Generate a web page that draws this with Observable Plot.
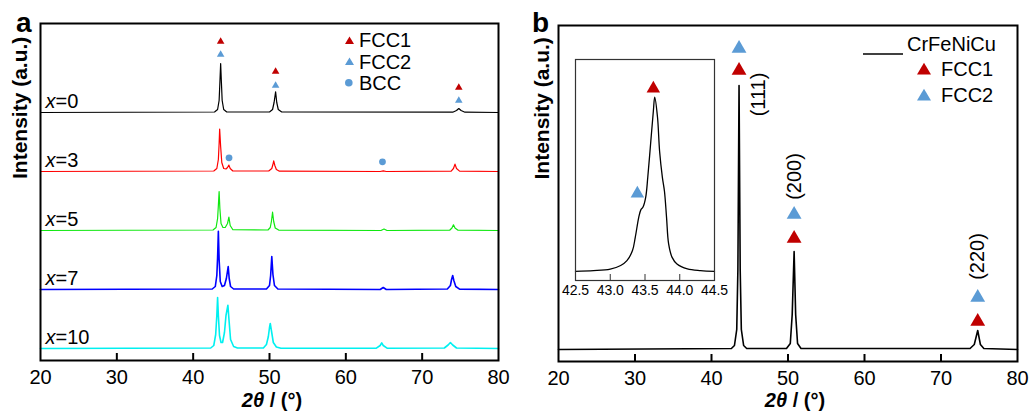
<!DOCTYPE html>
<html><head><meta charset="utf-8">
<script src="https://cdn.jsdelivr.net/npm/d3@7"></script>
<script src="https://cdn.jsdelivr.net/npm/@observablehq/plot@0.6"></script>
<style>
body{margin:0;background:#fff;}
#wrap{position:relative;width:1031px;height:413px;overflow:hidden;font-family:"Liberation Sans",Arial,Helvetica,sans-serif;color:#000;}
#wrap > *{position:absolute;}
.ttl{font-weight:bold;font-size:20px;transform:translate(-50%,-50%);white-space:nowrap;}
.lg{font-size:20px;line-height:1;white-space:nowrap;transform:translateY(-50%);}
.letter{font-weight:bold;font-size:28px;line-height:1;}
</style></head><body><div id="wrap"></div>
<script>
const FONT = '"Liberation Sans", Arial, Helvetica, sans-serif';
const RED = "#c00000", BLUE = "#5b9bd5";

// ---------- Panel a data ----------
const compositions = ["0", "3", "5", "7", "10"];
const seriesColors = ["#000000", "#ff0000", "#10e810", "#0000ff", "#00f0f0"];
const xTicks = [20, 30, 40, 50, 60, 70, 80];
const innerTicks = [30, 40, 50, 60, 70];

const pattern_x0 = [[20,0],[42.8,0.5],[43.2,3],[43.4,12],[43.5,30],[43.6,49],[43.7,30],[43.8,12],[44.0,3],[44.4,0.5],
  [50.0,0.5],[50.4,3],[50.6,10],[50.8,20.6],[50.95,10],[51.15,3],[51.6,0.5],[74.0,0.3],[74.5,2],[74.8,4],[75.1,2],[75.6,0.3],[80,0]];
const pattern_x3 = [[20,0],[42.7,0.5],[43.1,3],[43.3,12],[43.4,28],[43.47,42.4],[43.6,25],[43.75,9],[44.0,3],[44.3,2.5],[44.5,4],[44.68,6.4],[44.85,3],[45.2,0.5],
  [49.9,0.5],[50.3,3],[50.45,7],[50.55,10.7],[50.7,6],[50.9,2],[51.3,0.3],[64.5,0],[64.9,0.6],[65.3,0],[73.8,0.4],[74.1,3],[74.3,7.4],[74.5,3],[74.9,0.4],[80,0]];
const pattern_x5 = [[20,0],[42.6,0.5],[43.0,3],[43.2,12],[43.3,25],[43.4,39],[43.5,22],[43.65,7],[43.9,3],[44.2,3],[44.5,7],[44.68,13.3],[44.85,5],[45.2,0.8],
  [49.8,0.5],[50.1,3],[50.25,9],[50.4,18.3],[50.55,9],[50.75,2.5],[51.2,0.4],[64.6,0],[65.0,1.5],[65.4,0],[73.6,0.3],[73.9,2.5],[74.1,5.7],[74.3,2.5],[74.7,0.3],[80,0]];
const pattern_x7 = [[20,0],[42.5,0.5],[42.9,3],[43.1,14],[43.2,32],[43.3,58.3],[43.4,30],[43.55,8],[43.8,3],[44.1,4],[44.35,11],[44.59,23],[44.72,11],[44.9,3],[45.3,0.5],
  [49.6,0.5],[50.0,4],[50.15,14],[50.3,33],[50.45,15],[50.65,4],[51.1,0.5],[64.5,0],[64.9,2],[65.3,0],[73.3,0.5],[73.7,4],[73.85,10],[74.0,14],[74.15,9],[74.4,3],[74.9,0.4],[80,0]];
const pattern_x10 = [[20,0],[42.3,0.5],[42.7,3],[42.95,14],[43.1,33],[43.2,51],[43.3,33],[43.45,13],[43.65,6],[43.85,6],[44.1,16],[44.3,33],[44.55,43.3],[44.7,28],[44.9,9],[45.3,2],[45.8,0.5],
  [49.2,0.5],[49.6,4],[49.85,12],[50.0,21],[50.1,25],[50.25,18],[50.5,6],[50.9,1.5],[51.5,0.3],[64.0,0.3],[64.5,3],[64.7,5.6],[64.9,3],[65.4,0.3],[72.9,0.5],[73.4,3.5],[73.7,6],[74.0,3.5],[74.5,0.5],[80,0]];
const patternsA = [pattern_x0, pattern_x3, pattern_x5, pattern_x7, pattern_x10];

// phase markers (2θ, height above the marked pattern's baseline)
const fcc1_a = [[43.6, 71], [50.8, 41], [74.8, 25]];       // on x=0
const fcc2_a = [[43.6, 58], [50.8, 27], [74.8, 12]];       // on x=0
const bcc_a  = [[44.7, 13.7], [64.8, 9.7]];                // on x=3

// ---------- Panel b data ----------
const pattern_b = [[20,0],[42.6,1],[43.0,4],[43.3,20],[43.45,80],[43.6,264],[43.75,80],[43.9,20],[44.2,4],[44.6,1],
  [49.8,1],[50.3,6],[50.55,35],[50.8,98],[51.0,35],[51.25,6],[51.7,1],[73.8,1],[74.35,5],[74.8,19],[75.15,5],[75.6,1],[80,0]];
const fcc1_b = [[43.6, 279], [50.8, 111], [74.8, 28]];
const fcc2_b = [[43.6, 301], [50.8, 135], [74.8, 52]];
const hkl_b = [["(111)", 46.1, 255], ["(200)", 50.8, 173], ["(220)", 74.8, 93]];

// inset (111) zoom
const inset_b = [[42.5,0],[42.76,0.4],[43.0,1.3],[43.15,3.3],[43.24,6.1],[43.32,11.9],[43.36,19.5],[43.41,31],[43.44,35.3],[43.47,36.8],[43.51,42.5],[43.54,54],[43.58,73],[43.62,92],[43.64,100],[43.68,88.5],[43.71,69],[43.75,54],[43.78,46],[43.81,31],[43.84,15.7],[43.89,8],[43.96,4.2],[44.11,1.4],[44.3,0.4],[44.5,0]];
const insetTicks = [42.5, 43.0, 43.5, 44.0, 44.5];
const insetInner = [43.0, 43.5, 44.0];
const inset_fcc1 = [[43.62, 105]];
const inset_fcc2 = [[43.39, 44.7]];

// ---------- build ----------
const wrap = document.getElementById("wrap");
const STACK = 59;
const offA = i => (compositions.length - 1 - i) * STACK;
const toRows = (arr, off = 0) => arr.map(([t, v]) => ({t, v: v + off}));

const A_H = 413, A_MT = 23, A_MB = 53;
const plotA = Plot.plot({
  width: 520, height: A_H, marginLeft: 40, marginRight: 22, marginTop: A_MT, marginBottom: A_MB,
  style: {fontFamily: FONT, fontSize: "20px", color: "#000", background: "transparent", overflow: "visible"},
  x: {domain: [20, 80], ticks: xTicks, tickSize: 0, tickPadding: 9, label: null},
  y: {domain: [-12, 325], axis: null},
  marks: [
    ...patternsA.map((p, i) => Plot.line(toRows(p, offA(i)), {x: "t", y: "v", stroke: seriesColors[i], strokeWidth: i >= 3 ? 1.6 : 1.2})),
    Plot.text(compositions, {x: 20, y: (d, i) => offA(i), text: () => "x", fontStyle: "italic", textAnchor: "start", lineAnchor: "middle", dx: 5, dy: -11, fontSize: 20}),
    Plot.text(compositions, {x: 20, y: (d, i) => offA(i), text: d => "=" + d, textAnchor: "start", lineAnchor: "middle", dx: 15, dy: -11, fontSize: 20}),
    Plot.dot(toRows(fcc1_a, offA(0)), {x: "t", y: "v", symbol: "triangle", r: 2.8, fill: RED}),
    Plot.dot(toRows(fcc2_a, offA(0)), {x: "t", y: "v", symbol: "triangle", r: 2.8, fill: BLUE}),
    Plot.dot(toRows(bcc_a, offA(1)), {x: "t", y: "v", r: 3.4, fill: BLUE}),
    Plot.ruleX(innerTicks, {insetTop: A_H - A_MT - A_MB - 7, strokeWidth: 2}),
    Plot.frame({stroke: "#000", strokeWidth: 2}),
    Plot.text(["Intensity (a.u.)"], {frameAnchor: "left", rotate: -90, dx: -20, dy: -13, fontWeight: "bold", fontSize: 21})
  ]
});
plotA.style.left = "0px"; plotA.style.top = "0px";
wrap.appendChild(plotA);

const B_H = 413, B_MT = 25, B_MB = 52;
const plotB = Plot.plot({
  width: 511, height: B_H, marginLeft: 38, marginRight: 14, marginTop: B_MT, marginBottom: B_MB,
  style: {fontFamily: FONT, fontSize: "20px", color: "#000", background: "transparent", overflow: "visible"},
  x: {domain: [20, 80], ticks: xTicks, tickSize: 0, tickPadding: 9, label: null},
  y: {domain: [-12, 324], axis: null},
  marks: [
    Plot.line(toRows(pattern_b), {x: "t", y: "v", stroke: "#000", strokeWidth: 1.6}),
    Plot.dot(toRows(fcc2_b), {x: "t", y: "v", symbol: "triangle", r: 5.5, fill: BLUE}),
    Plot.dot(toRows(fcc1_b), {x: "t", y: "v", symbol: "triangle", r: 5.5, fill: RED}),
    Plot.text(hkl_b, {x: d => d[1], y: d => d[2], text: d => d[0], rotate: -90, textAnchor: "middle", lineAnchor: "middle", fontSize: 20}),
    Plot.ruleX(innerTicks, {insetTop: B_H - B_MT - B_MB - 7, strokeWidth: 2}),
    Plot.frame({stroke: "#000", strokeWidth: 2}),
    Plot.text(["Intensity (a.u.)"], {frameAnchor: "left", rotate: -90, dx: -16, dy: -14, fontWeight: "bold", fontSize: 21})
  ]
});
plotB.style.left = "520px"; plotB.style.top = "0px";
wrap.appendChild(plotB);

const I_MT = 5, I_MB = 30, I_ML = 14, I_MR = 14;
const plotI = Plot.plot({
  width: 139 + I_ML + I_MR, height: 221 + I_MT + I_MB, marginLeft: I_ML, marginRight: I_MR, marginTop: I_MT, marginBottom: I_MB,
  style: {fontFamily: FONT, fontSize: "14px", color: "#000", background: "transparent", overflow: "visible"},
  x: {domain: [42.5, 44.5], ticks: insetTicks, tickFormat: d3.format(".1f"), tickSize: 0, tickPadding: 5, label: null},
  y: {domain: [-5.3, 121.7], axis: null},
  marks: [
    Plot.line(toRows(inset_b), {x: "t", y: "v", stroke: "#000", strokeWidth: 1.3, curve: "catmull-rom"}),
    Plot.dot(toRows(inset_fcc1), {x: "t", y: "v", symbol: "triangle", r: 5, fill: RED}),
    Plot.dot(toRows(inset_fcc2), {x: "t", y: "v", symbol: "triangle", r: 5, fill: BLUE}),
    Plot.ruleX(insetInner, {insetTop: 221 - 6, strokeWidth: 1, stroke: "#333"}),
    Plot.frame({stroke: "#333", strokeWidth: 1.2})
  ]
});
plotI.style.left = (575 - I_ML) + "px"; plotI.style.top = (59 - I_MT) + "px";
wrap.appendChild(plotI);

// ---------- overlays: titles, panel letters, legends ----------
function add(html, css, cls) {
  const d = document.createElement("div");
  d.innerHTML = html; d.style.cssText = css; if (cls) d.className = cls;
  wrap.appendChild(d); return d;
}
const tri = (c, w) => `<svg width="${w}" height="${w}" viewBox="0 0 ${w} ${w}" style="position:absolute;left:${-w/2}px;top:${-w/2}px;overflow:visible"><polygon points="0,${w*0.9} ${w},${w*0.9} ${w/2},${w*0.05}" fill="${c}"/></svg>`;
const circ = (c, r) => `<svg width="${2*r}" height="${2*r}" style="position:absolute;left:${-r}px;top:${-r}px"><circle cx="${r}" cy="${r}" r="${r}" fill="${c}"/></svg>`;

add('<i>2θ</i> / (°)', 'left:272px;top:400px;', 'ttl');
add('<i>2θ</i> / (°)', 'left:795px;top:400px;', 'ttl');
add('a', 'left:16px;top:9px;', 'letter');
add('b', 'left:532px;top:9px;', 'letter');

// legend a
const legA = [["FCC1", tri(RED, 9)], ["FCC2", tri(BLUE, 9)], ["BCC", circ(BLUE, 3.8)]];
legA.forEach(([label, sym], i) => {
  add(sym, `left:349px;top:${40 + i * 21.5}px;width:0;height:0;`);
  add(label, `left:359px;top:${40 + i * 21.5}px;`, 'lg');
});
// legend b
add('<svg width="40" height="4"><line x1="0" y1="2" x2="40" y2="2" stroke="#000" stroke-width="1.3"/></svg>', 'left:863px;top:42px;');
add('CrFeNiCu', 'left:907px;top:44px;', 'lg');
const legB = [["FCC1", tri(RED, 14)], ["FCC2", tri(BLUE, 14)]];
legB.forEach(([label, sym], i) => {
  add(sym, `left:924px;top:${69 + i * 26}px;width:0;height:0;`);
  add(label, `left:941px;top:${69 + i * 26}px;`, 'lg');
});
</script></body></html>
